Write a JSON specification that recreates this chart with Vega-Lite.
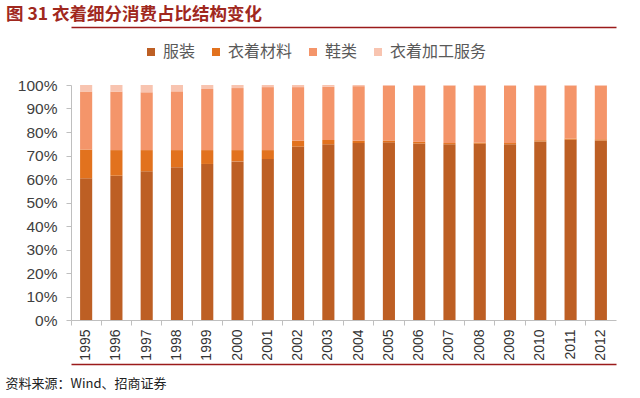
{
  "$schema": "https://vega.github.io/schema/vega-lite/v6.json",
  "autosize": {"type": "none"},
  "width": 545,
  "height": 235,
  "padding": {"left": 71, "top": 85, "right": 24, "bottom": 78},
  "background": "white",
  "title": {
    "text": "图 31  衣着细分消费占比结构变化",
    "anchor": "start",
    "frame": "group",
    "dx": -65,
    "offset": 4,
    "font": "Noto Sans CJK SC",
    "fontSize": 17.5,
    "fontWeight": "bold",
    "color": "#A0281E"
  },
  "data": {
    "values": [
      {"year": "1995", "服装": 60.3, "衣着材料": 12.3, "鞋类": 24.6, "衣着加工服务": 2.8},
      {"year": "1996", "服装": 61.4, "衣着材料": 10.9, "鞋类": 24.9, "衣着加工服务": 2.8},
      {"year": "1997", "服装": 63.3, "衣着材料": 9.0, "鞋类": 24.6, "衣着加工服务": 3.1},
      {"year": "1998", "服装": 65.0, "衣着材料": 7.3, "鞋类": 25.0, "衣着加工服务": 2.7},
      {"year": "1999", "服装": 66.4, "衣着材料": 5.9, "鞋类": 26.0, "衣着加工服务": 1.7},
      {"year": "2000", "服装": 67.5, "衣着材料": 4.8, "鞋类": 26.4, "衣着加工服务": 1.3},
      {"year": "2001", "服装": 68.5, "衣着材料": 3.8, "鞋类": 26.8, "衣着加工服务": 0.9},
      {"year": "2002", "服装": 73.8, "衣着材料": 2.5, "鞋类": 22.8, "衣着加工服务": 0.9},
      {"year": "2003", "服装": 74.8, "衣着材料": 1.8, "鞋类": 22.7, "衣着加工服务": 0.7},
      {"year": "2004", "服装": 75.3, "衣着材料": 1.0, "鞋类": 23.2, "衣着加工服务": 0.5},
      {"year": "2005", "服装": 75.6, "衣着材料": 0.8, "鞋类": 23.2, "衣着加工服务": 0.4},
      {"year": "2006", "服装": 75.1, "衣着材料": 0.7, "鞋类": 23.9, "衣着加工服务": 0.3},
      {"year": "2007", "服装": 74.8, "衣着材料": 0.5, "鞋类": 24.4, "衣着加工服务": 0.3},
      {"year": "2008", "服装": 75.0, "衣着材料": 0.5, "鞋类": 24.2, "衣着加工服务": 0.3},
      {"year": "2009", "服装": 74.8, "衣着材料": 0.5, "鞋类": 24.4, "衣着加工服务": 0.3},
      {"year": "2010", "服装": 76.0, "衣着材料": 0.5, "鞋类": 23.2, "衣着加工服务": 0.3},
      {"year": "2011", "服装": 76.7, "衣着材料": 0.5, "鞋类": 22.5, "衣着加工服务": 0.3},
      {"year": "2012", "服装": 76.4, "衣着材料": 0.5, "鞋类": 22.8, "衣着加工服务": 0.3}
    ]
  },
  "layer": [
    {
      "transform": [
        {"fold": ["服装", "衣着材料", "鞋类", "衣着加工服务"], "as": ["类别", "占比"]},
        {"calculate": "indexof(['服装', '衣着材料', '鞋类', '衣着加工服务'], datum['类别'])", "as": "层序"}
      ],
      "mark": {"type": "bar", "width": {"band": 0.4}},
      "encoding": {
        "x": {
          "field": "year", "type": "nominal",
          "scale": {"paddingInner": 0, "paddingOuter": 0},
          "axis": {
            "orient": "bottom", "title": null, "labelAngle": -90,
            "labelFont": "Liberation Sans", "labelFontSize": 14, "labelColor": "#333333",
            "labelPadding": 4, "bandPosition": 0, "ticks": true, "tickSize": 5,
            "tickColor": "#BFBFBF", "domainColor": "#BFBFBF", "grid": false
          }
        },
        "y": {
          "field": "占比", "type": "quantitative", "stack": "normalize",
          "scale": {"domain": [0, 1]},
          "axis": {
            "title": null, "values": [0, 0.1, 0.2, 0.3, 0.4, 0.5, 0.6, 0.7, 0.8, 0.9, 1],
            "format": ".0%", "grid": false, "labelFont": "Liberation Sans", "labelFontSize": 15.5,
            "labelColor": "#404040", "tickColor": "#BFBFBF", "domainColor": "#BFBFBF",
            "tickSize": 5, "labelPadding": 9
          }
        },
        "order": {"field": "层序", "type": "quantitative", "sort": "ascending"},
        "color": {
          "field": "类别", "type": "nominal",
          "sort": ["服装", "衣着材料", "鞋类", "衣着加工服务"],
          "scale": {"domain": ["服装", "衣着材料", "鞋类", "衣着加工服务"], "range": ["#BD5F24", "#E2721E", "#F4956A", "#F8C4B0"]},
          "legend": {
            "title": null, "orient": "none", "direction": "horizontal",
            "legendX": 72, "legendY": -41, "symbolType": "square", "symbolSize": 64,
            "symbolStrokeWidth": 0, "labelFont": "Noto Sans CJK SC", "labelFontSize": 16,
            "labelColor": "#595959", "columnPadding": 12, "symbolOffset": 0, "labelOffset": 4
          }
        }
      }
    },
    {
      "mark": {"type": "rule", "opacity": 0},
      "encoding": {
        "x": {
          "field": "year", "type": "nominal",
          "axis": {"orient": "top", "offset": 58, "labels": false, "ticks": false, "title": null,
                   "domainColor": "#9B1B1B", "domainWidth": 1.5, "grid": false, "zindex": 1}
        }
      }
    },
    {
      "mark": {"type": "rule", "opacity": 0},
      "encoding": {
        "x": {
          "field": "year", "type": "nominal",
          "axis": {"orient": "bottom", "offset": 44, "labels": false, "ticks": false, "domain": true,
                   "title": "资料来源：Wind、招商证券", "titleAnchor": "start", "titleAlign": "left",
                   "titleX": -66, "titleY": 13, "titleFont": "Noto Sans CJK SC", "titleFontSize": 13,
                   "titleFontWeight": "normal", "titleColor": "#222222", "zindex": 1,
                   "domainColor": "#9B1B1B", "domainWidth": 1.5, "grid": false}
        }
      }
    }
  ],
  "resolve": {"axis": {"x": "independent"}},
  "config": {"view": {"stroke": null}}
}
